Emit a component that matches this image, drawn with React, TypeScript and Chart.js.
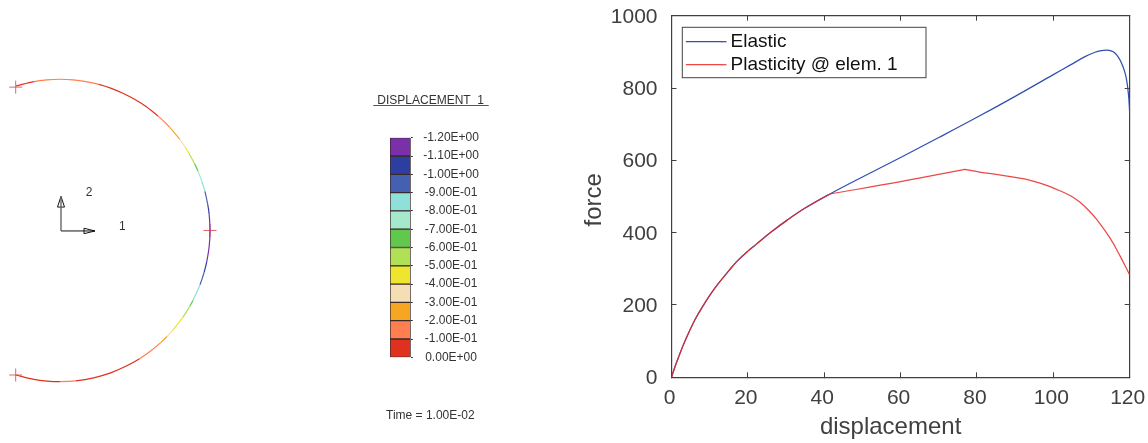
import React, { useEffect, useRef } from "react";
import { Chart, registerables } from "chart.js";

Chart.register(...registerables);

// ---- force / displacement curves (41.5 and 76.8 are repeated: sharp knees in the curve) ----
const elasticX = [0, 1, 2, 3.45, 6.07, 8.7, 11.3, 15.2, 17.07, 20, 22.3, 26, 30.2, 35, 41.5, 50, 60, 70, 80, 90, 100, 104.5, 108.3, 110.9, 112.5, 114, 115.3, 116.2, 117.1, 117.9, 118.6, 119.2, 119.7, 120];
const elasticY = [0, 32, 60, 98, 158, 205, 246, 297, 320, 349, 369, 401, 434, 468, 507, 554, 608, 663, 719, 777, 837, 864, 886.7, 899, 903.5, 905, 902, 896, 884, 868, 848, 822, 780, 730];
const plasticX = [0, 1, 2, 3.45, 6.07, 8.7, 11.3, 15.2, 17.07, 20, 22.3, 26, 30.2, 35, 41.5, 41.5, 60, 76.8, 76.8, 81, 85, 90.4, 93.5, 96.5, 99, 101.7, 104.5, 107, 109.3, 111.4, 114.9, 117.5, 120];
const plasticY = [0, 32, 60, 98, 158, 205, 246, 297, 320, 349, 369, 401, 434, 468, 507, 507, 541, 575, 575, 567, 561, 552, 546, 537, 528, 516, 502, 484, 461, 436, 384, 335, 283];
const xTicks = [0, 20, 40, 60, 80, 100, 120];
const yTicks = [0, 200, 400, 600, 800, 1000];
const seriesNames = ["Elastic", "Plasticity @ elem. 1"];

// ---- contour scale ----
const contourLabels = ["-1.20E+00", "-1.10E+00", "-1.00E+00", "-9.00E-01", "-8.00E-01", "-7.00E-01", "-6.00E-01", "-5.00E-01", "-4.00E-01", "-3.00E-01", "-2.00E-01", "-1.00E-01", "0.00E+00"];
const contourColors = ["#e0301e", "#ff7f50", "#f6a623", "#f5deb3", "#eee52f", "#b0e055", "#60c84c", "#a5e8cc", "#8fe0d8", "#4560b0", "#2c3e9f", "#7b2fa8"];
const contourStep = [-0.1, -0.1, -0.1, -0.1, -0.1, -0.1, -0.1, -0.1, -0.1, -0.1, -0.1, -0.1];

// ---- deformed ring (model coordinates), colour index = contour band of the segment starting at that point ----
const ringX = [-43.9, -26, -13.1, 0, 13, 26, 38.8, 51.3, 63.4, 75, 86, 98.4, 104.2, 109.7, 114.9, 119.8, 125.1, 129.2, 134.8, 138.1, 141.8, 144.9, 147.7, 149.2, 150, 149.2, 146.7, 144.2, 140.0, 132.9, 129.9, 122.9, 112.3, 107.0, 100.4, 90.3, 79.5, 65.8, 51.3, 33.7, 15.7, 0, -13.1, -26, -43.9];
const ringY = [143.4, 147.7, 149.4, 150, 149.4, 147.7, 144.9, 141, 135.9, 129.9, 122.9, 113.2, 107.9, 102.3, 96.4, 90.3, 82.8, 76.1, 65.8, 58.6, 48.8, 38.8, 26, 15.7, 0, -15.7, -31.2, -41.3, -53.8, -69.5, -75, -86, -99.4, -105.2, -111.5, -119.8, -127.2, -134.8, -141, -146.2, -149.2, -150, -149.4, -147.7, -143.4];
const ringBand = [0, 1, 1, 1, 1, 1, 0, 0, 0, 0, 0, 1, 1, 2, 2, 3, 4, 5, 6, 7, 8, 9, 10, 11, 11, 11, 10, 9, 8, 6, 5, 4, 3, 2, 1, 1, 0, 0, 0, 0, 1, 0, 0, 0, 0];
const loadPointsX = [-44.3, 150, -44.3];
const loadPointsY = [142.2, 0, -143.4];

// ---- coordinate triad ----
const triadYx = [1, 1];
const triadYy = [-0.5, 33.8];
const triadXx = [1, 35];
const triadXy = [-0.5, -0.5];
const headYx = [-2.5, 1, 4.5, -2.5];
const headYy = [23.2, 33.8, 23.2, 23.2];
const headXx = [24, 35, 24, 24];
const headXy = [2.2, -0.5, -3.2, 2.2];
const triadNames = ["1", "2"];
const triadNameX = [62.3, 29];
const triadNameY = [3.8, 37.2];

const sansFont = "'Liberation Sans', Arial, sans-serif";
const inkGray = "#404040";

const toPoints = (xs: number[], ys: number[]) => xs.map((x, i) => ({ x, y: ys[i] }));

const fixBox = (s: any, size: { width?: number; height?: number }) => {
  if (size.width !== undefined) s.width = size.width;
  if (size.height !== undefined) s.height = size.height;
  s.paddingLeft = s.paddingRight = s.paddingTop = s.paddingBottom = 0;
};

function useChart(build: (c: HTMLCanvasElement) => Chart) {
  const ref = useRef<HTMLCanvasElement | null>(null);
  useEffect(() => {
    const chart = build(ref.current as HTMLCanvasElement);
    return () => chart.destroy();
  }, []);
  return ref;
}

const ringChart = (canvas: HTMLCanvasElement) =>
  new Chart(canvas, {
    type: "scatter",
    data: {
      datasets: [
        {
          data: toPoints(ringX, ringY),
          showLine: true,
          pointRadius: 0,
          borderWidth: 1.2,
          tension: 0.35,
          borderColor: contourColors[0],
          segment: { borderColor: (ctx: any) => contourColors[ringBand[ctx.p0DataIndex]] },
        },
        {
          data: toPoints(loadPointsX, loadPointsY),
          showLine: false,
          pointStyle: "cross",
          pointRadius: 6.5,
          pointBorderWidth: 1,
          pointBorderColor: "rgba(228,70,70,0.85)",
        },
        { data: toPoints(triadYx, triadYy), showLine: true, pointRadius: 0, borderWidth: 1.4, borderColor: "#666666" },
        { data: toPoints(triadXx, triadXy), showLine: true, pointRadius: 0, borderWidth: 1, borderColor: "#111111" },
        { data: toPoints(headYx, headYy), showLine: true, pointRadius: 0, borderWidth: 1, borderColor: "#111111", tension: 0 },
        { data: toPoints(headXx, headXy), showLine: true, pointRadius: 0, borderWidth: 1, borderColor: "#111111", tension: 0 },
      ],
    },
    options: {
      responsive: false,
      animation: false,
      layout: { padding: 0, autoPadding: false },
      plugins: { legend: { display: false }, tooltip: { enabled: false } },
      scales: {
        x: { type: "linear", display: false, min: -60, max: 170 },
        y: { type: "linear", display: false, min: -168.2, max: 169.1 },
      },
    },
    plugins: [
      {
        id: "triadNames",
        afterDraw(chart: any) {
          const { ctx, scales } = chart;
          ctx.save();
          ctx.font = `12px ${sansFont}`;
          ctx.fillStyle = "#333333";
          ctx.textAlign = "center";
          ctx.textBaseline = "middle";
          triadNames.forEach((t, i) => ctx.fillText(t, scales.x.getPixelForValue(triadNameX[i]), scales.y.getPixelForValue(triadNameY[i])));
          ctx.restore();
        },
      },
    ],
  } as any);

const scaleChart = (canvas: HTMLCanvasElement) =>
  new Chart(canvas, {
    type: "bar",
    data: {
      labels: ["DISPLACEMENT 1"],
      datasets: contourColors.map((color, i) => ({
        data: [contourStep[i]],
        backgroundColor: color,
        borderColor: "#3a2a2a",
        borderWidth: 1,
        borderSkipped: false,
        barPercentage: 1,
        categoryPercentage: 1,
      })),
    },
    options: {
      responsive: false,
      animation: false,
      layout: { padding: { left: 20, top: 52.7, bottom: 72.7, right: 0 }, autoPadding: false },
      plugins: { legend: { display: false }, tooltip: { enabled: false } },
      scales: {
        x: { display: false, stacked: true },
        y: {
          stacked: true,
          reverse: true,
          position: "right",
          min: -1.2,
          max: 0,
          afterFit: (s: any) => fixBox(s, { width: 79.3 }),
          afterBuildTicks: (s: any) => {
            s.ticks = contourLabels.map((_, i) => ({ value: -1.2 + i * 0.1 }));
          },
          border: { display: false },
          grid: { drawOnChartArea: false, tickLength: 2, color: "#222222", lineWidth: 1 },
          ticks: {
            autoSkip: false,
            padding: 10.5,
            crossAlign: "center",
            color: "#333333",
            font: { family: sansFont, size: 12 },
            callback: (_: any, i: number) => contourLabels[i],
          },
        },
      },
    },
    plugins: [
      {
        id: "captions",
        afterDraw(chart: any) {
          const { ctx } = chart;
          ctx.save();
          ctx.font = `12px ${sansFont}`;
          ctx.fillStyle = "#333333";
          ctx.textBaseline = "alphabetic";
          ctx.textAlign = "left";
          ctx.fillText("DISPLACEMENT  1", 7.3, 18.5);
          ctx.fillText("Time = 1.00E-02", 16, 333.5);
          ctx.strokeStyle = "#555555";
          ctx.lineWidth = 1;
          ctx.beginPath();
          ctx.moveTo(3.3, 20.5);
          ctx.lineTo(118.7, 20.5);
          ctx.stroke();
          ctx.restore();
        },
      },
    ],
  } as any);

const blueLine = "#3050b0";
const redLine = "rgba(232,40,40,0.85)";

const forceChart = (canvas: HTMLCanvasElement) =>
  new Chart(canvas, {
    type: "scatter",
    data: {
      datasets: [
        {
          label: seriesNames[0],
          data: toPoints(elasticX, elasticY),
          showLine: true,
          order: 2,
          pointRadius: 0,
          borderWidth: 1.25,
          borderColor: blueLine,
          backgroundColor: blueLine,
          tension: 0.4,
        },
        {
          label: seriesNames[1],
          data: toPoints(plasticX, plasticY),
          showLine: true,
          order: 1,
          pointRadius: 0,
          borderWidth: 1.25,
          borderColor: redLine,
          backgroundColor: redLine,
          tension: 0.4,
        },
      ],
    },
    options: {
      responsive: false,
      animation: false,
      layout: { padding: { top: 15.7, right: 18.3, left: 0, bottom: 0 }, autoPadding: false },
      plugins: {
        tooltip: { enabled: false },
        legend: {
          position: "chartArea",
          align: "start",
          fullSize: false,
          labels: {
            boxWidth: 34.5,
            boxHeight: 0.01,
            padding: 4,
            color: "#111111",
            font: { family: sansFont, size: 19 },
            sort: (a: any, b: any) => a.datasetIndex - b.datasetIndex,
          },
        },
      },
      scales: {
        x: {
          type: "linear",
          min: 0,
          max: 120,
          afterFit: (s: any) => fixBox(s, { height: 65.7 }),
          afterBuildTicks: (s: any) => {
            s.ticks = xTicks.map((value) => ({ value }));
          },
          border: { color: inkGray, width: 1.2 },
          grid: { drawOnChartArea: false, tickLength: -5, color: inkGray, lineWidth: 1 },
          ticks: { padding: 13, labelOffset: -2, color: inkGray, maxRotation: 0, font: { family: sansFont, size: 21 }, callback: (v: any) => String(v) },
          title: { display: true, text: "displacement   ", color: inkGray, padding: { top: 0, bottom: 1 }, font: { family: sansFont, size: 24 } },
        },
        y: {
          type: "linear",
          min: 0,
          max: 1000,
          afterFit: (s: any) => fixBox(s, { width: 111.5 }),
          afterBuildTicks: (s: any) => {
            s.ticks = yTicks.map((value) => ({ value }));
          },
          border: { color: inkGray, width: 1.2 },
          grid: { drawOnChartArea: false, tickLength: -5, color: inkGray, lineWidth: 1 },
          ticks: { padding: 19, labelOffset: 1.2, color: inkGray, font: { family: sansFont, size: 21 }, callback: (v: any) => String(v) },
          title: { display: true, text: "force ", color: inkGray, padding: { top: 20, bottom: 0 }, font: { family: sansFont, size: 24 } },
        },
        xTop: {
          type: "linear",
          position: "top",
          min: 0,
          max: 120,
          afterFit: (s: any) => fixBox(s, { height: 0 }),
          afterBuildTicks: (s: any) => {
            s.ticks = xTicks.map((value) => ({ value }));
          },
          border: { color: inkGray, width: 1.2 },
          grid: { drawOnChartArea: false, tickLength: -5, color: inkGray, lineWidth: 1 },
          ticks: { display: false },
        },
        yRight: {
          type: "linear",
          position: "right",
          min: 0,
          max: 1000,
          afterFit: (s: any) => fixBox(s, { width: 0 }),
          afterBuildTicks: (s: any) => {
            s.ticks = yTicks.map((value) => ({ value }));
          },
          border: { color: inkGray, width: 1.2 },
          grid: { drawOnChartArea: false, tickLength: -5, color: inkGray, lineWidth: 1 },
          ticks: { display: false },
        },
      },
    },
    plugins: [
      {
        id: "legendFrame",
        afterLayout(chart: any) {
          const legend = chart.legend;
          legend.left = chart.chartArea.left + 11;
          legend.top = chart.chartArea.top + 12.5;
          legend.adjustHitBoxes && legend.adjustHitBoxes();
        },
        beforeDatasetsDraw(chart: any) {
          const { ctx, chartArea, legend } = chart;
          ctx.save();
          ctx.strokeStyle = "#444444";
          ctx.lineWidth = 1;
          ctx.strokeRect(chartArea.left + 10.8, chartArea.top + 11.6, 243.7, 50.4);
          // the legend's key lines are 5.5px longer than the library's box-to-text gap allows
          chart.data.datasets.forEach((d: any, i: number) => {
            const box = legend.legendHitBoxes[i];
            const y = box.top + box.height / 2;
            const x = legend.left + 4 + 34.5;
            ctx.strokeStyle = d.borderColor;
            ctx.lineWidth = d.borderWidth;
            ctx.beginPath();
            ctx.moveTo(x, y);
            ctx.lineTo(x + 5.5, y);
            ctx.stroke();
          });
          ctx.restore();
        },
      },
    ],
  } as any);

const canvasStyle = (left: number, top: number): React.CSSProperties => ({ position: "absolute", left, top, display: "block" });

export default function App() {
  const ringRef = useChart(ringChart);
  const scaleRef = useChart(scaleChart);
  const forceRef = useChart(forceChart);
  return (
    <div style={{ position: "absolute", left: 0, top: 0, width: 1148, height: 443, background: "#ffffff", overflow: "hidden" }}>
      <canvas ref={ringRef} width={230} height={340} style={canvasStyle(0, 60)} />
      <canvas ref={scaleRef} width={120} height={345} style={canvasStyle(370, 85)} />
      <canvas ref={forceRef} width={588} height={443} style={canvasStyle(560, 0)} />
    </div>
  );
}
